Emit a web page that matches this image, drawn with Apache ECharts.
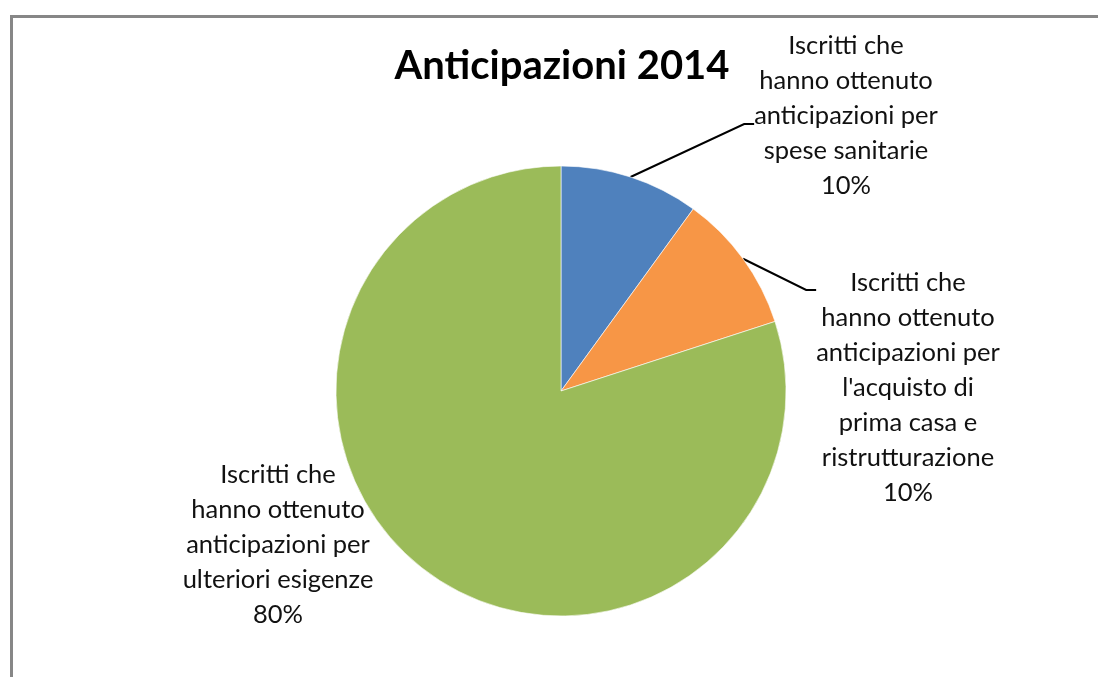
<!DOCTYPE html>
<html>
<head>
<meta charset="utf-8">
<style>html,body{margin:0;padding:0;background:#fff;}#c{width:1098px;height:677px;}</style>
<script src="https://cdn.jsdelivr.net/npm/echarts@6/dist/echarts.min.js"></script>
</head>
<body>
<div id="c"></div>
<script>
const titleText = 'Anticipazioni 2014';
const categories = [
  "Iscritti che\nhanno ottenuto\nanticipazioni per\nspese sanitarie",
  "Iscritti che\nhanno ottenuto\nanticipazioni per\nl'acquisto di\nprima casa e\nristrutturazione",
  "Iscritti che\nhanno ottenuto\nanticipazioni per\nulteriori esigenze"
];
const values = [10, 10, 80];
const colors = ['#4F81BD', '#F79646', '#9BBB59'];

const chart = echarts.init(document.getElementById('c'), null, {renderer: 'canvas'});
const labelPos = [
  {x: 846, y: 116, lineDy: 8},
  {x: 908, y: 388, lineDy: -98},
  {x: 278, y: 545, lineDy: 0}
];
chart.setOption({
  animation: false,
  title: {
    text: titleText, left: 557, top: 41, textAlign: 'center',
    textStyle: {fontFamily: 'Lato', fontWeight: 'bold', fontSize: 40, color: '#000'}
  },
  graphic: [{
    type: 'rect', shape: {x: 11.5, y: 16.5, width: 1100, height: 700},
    style: {fill: 'none', stroke: '#878787', lineWidth: 3}, silent: true, z: -1
  }],
  series: [{
    type: 'pie',
    center: [561, 391],
    radius: 225,
    startAngle: 90,
    clockwise: true,
    data: categories.map((c, i) => ({
      name: c, value: values[i], itemStyle: {color: colors[i]},
      labelLine: {show: i < 2}
    })),
    itemStyle: {borderColor: '#fff', borderWidth: 0.6},
    label: {
      show: true, position: 'outside',
      formatter: p => p.name + '\n' + p.percent.toFixed(0) + '%',
      fontFamily: 'Lato', fontSize: 25.5, lineHeight: 35, color: '#111',
      align: 'center'
    },
    labelLine: {show: true, lineStyle: {color: '#000', width: 2}, length: 20, length2: 10},
    labelLayout: function (params) {
      const p = labelPos[params.dataIndex];
      const r = params.labelRect;
      const res = {x: p.x, y: p.y, align: 'center', verticalAlign: 'middle'};
      if (params.labelLinePoints && params.dataIndex < 2) {
        const a = params.labelLinePoints[0];
        const left = p.x - r.width / 2;
        const yl = p.y + p.lineDy;
        res.labelLinePoints = [a, [left - 10, yl], [left, yl]];
      }
      return res;
    }
  }]
});
</script>
</body>
</html>
